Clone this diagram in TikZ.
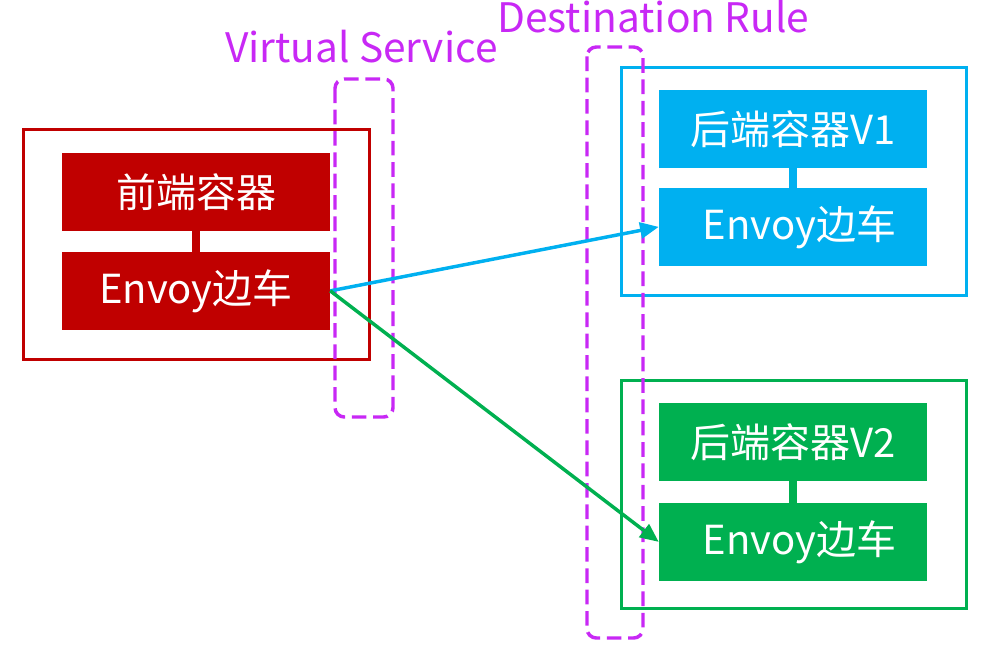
\documentclass[tikz,border=0pt]{standalone}
\usepackage{fontspec}
\setmainfont{Noto Sans CJK SC}
\usepackage{xcolor}
\usepackage{tikz}
\usetikzlibrary{arrows.meta}
\usetikzlibrary{positioning}

\definecolor{frontred}{RGB}{192,0,0}
\definecolor{backblue}{RGB}{0,176,240}
\definecolor{backgreen}{RGB}{0,176,80}
\definecolor{rulepurple}{RGB}{200,40,245}

\begin{document}
\begin{tikzpicture}[x=0.75pt, y=-0.75pt, box style/.style={rectangle, minimum width=201pt, minimum height=58pt, inner sep=0pt, text=white, font=\fontsize{30}{36}\selectfont}, outer style/.style={line width=2.25pt}, rule style/.style={draw=rulepurple, line width=2.6pt, dash pattern=on 11pt off 5pt, rounded corners=7pt}, link style/.style={line width=6pt}, route style/.style={line width=2.6pt, -{Triangle[length=14pt, width=12pt]}}, label style/.style={text=rulepurple, anchor=base west, inner sep=0pt, font=\fontsize{30.5}{36}\selectfont}]
	\useasboundingbox (0,0) rectangle (999,654);
	% front side
	\draw[outer style, frontred] (23,129) rectangle (369,359);
	\node[box style, fill=frontred] (FC) at (196,192) {前端容器};
	\node[box style, fill=frontred, below=15.75pt of FC] (FE) {Envoy边车};
	\draw[link style, frontred] (FC) -- (FE);
	% backend v1
	\draw[outer style, backblue] (621,67) rectangle (966,295);
	\node[box style, fill=backblue] (BC1) at (793,129) {后端容器V1};
	\node[box style, fill=backblue, below=15pt of BC1] (BE1) {\hspace{10pt}Envoy边车};
	\draw[link style, backblue] (BC1) -- (BE1);
	% backend v2
	\draw[outer style, backgreen] (621,380) rectangle (966,608);
	\node[box style, fill=backgreen] (BC2) at (793,442) {后端容器V2};
	\node[box style, fill=backgreen, below=16.5pt of BC2] (BE2) {\hspace{10pt}Envoy边车};
	\draw[link style, backgreen] (BC2) -- (BE2);
	% rules
	\draw[rule style] (335,79) rectangle (393,417);
	\draw[rule style] (587,47) rectangle (643,638);
	\node[label style] (VS) at (225,62) {Virtual Service};
	\node[label style] (DR) at (497,32) {Destination Rule};
	% routes
	\draw[route style, backblue] (FE.east) -- (BE1.west);
	\draw[route style, backgreen] (FE.east) -- (BE2.west);
\end{tikzpicture}
\end{document}
